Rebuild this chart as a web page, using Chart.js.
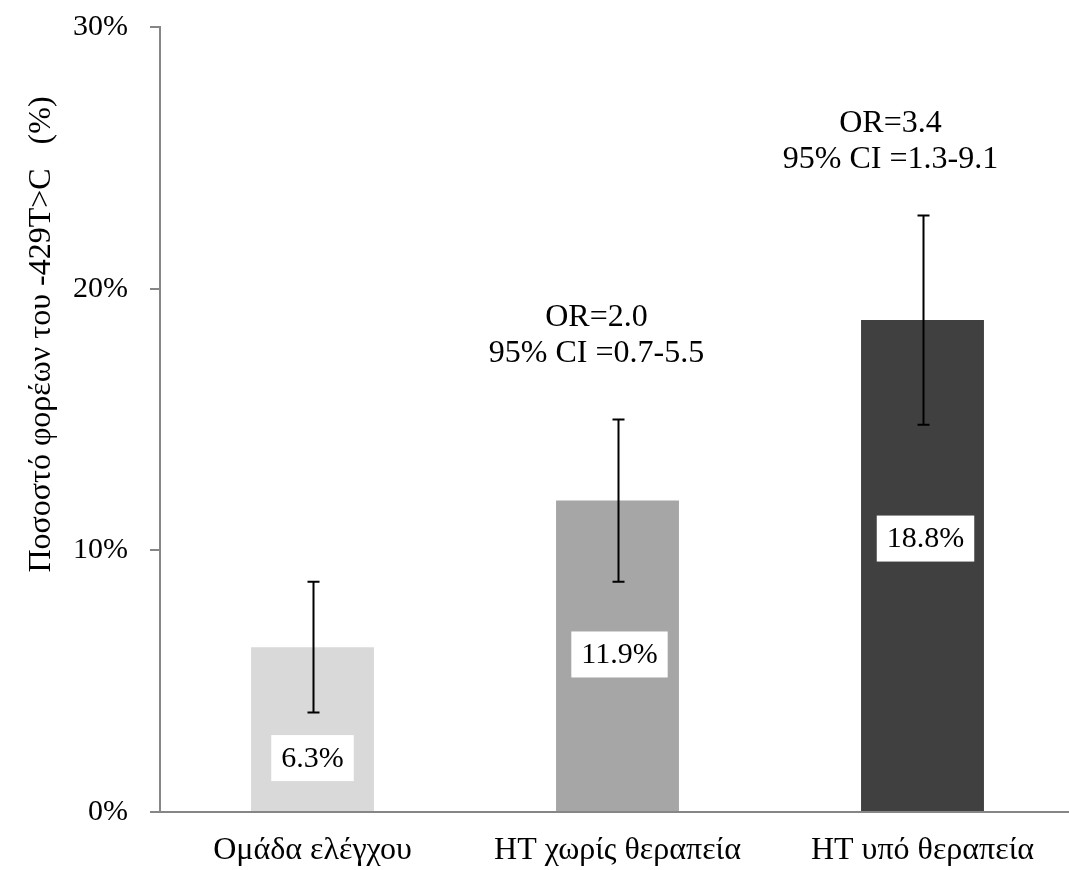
<!DOCTYPE html>
<html>
<head>
<meta charset="utf-8">
<script src="https://cdn.jsdelivr.net/npm/chart.js@4.4.1/dist/chart.umd.min.js"></script>
<style>
  html, body { margin: 0; padding: 0; background: #ffffff; overflow: hidden; }
  #wrap { width: 1075px; height: 870px; }
</style>
</head>
<body>
<div id="wrap"><canvas id="chart" width="1075" height="870"></canvas></div>
<script>
// Carriers of the -429T>C variant per group, with 95% confidence limits
const categories = ["Ομάδα ελέγχου", "HT χωρίς θεραπεία", "HT υπό θεραπεία"];
const carrierPct = [6.3, 11.9, 18.8];
const ciLow = [3.8, 8.8, 14.8];
const ciHigh = [8.8, 15.0, 22.8];
const orLabels = [null, "OR=2.0", "OR=3.4"];
const orCiLabels = [null, "95% CI =0.7-5.5", "95% CI =1.3-9.1"];
const yTickValues = [0, 10, 20, 30];
const yTitle = "Ποσοστό φορέων του -429T>C   (%)";

const barColors = ["#d9d9d9", "#a6a6a6", "#404040"];
const FONT = '"Liberation Serif", "Times New Roman", serif';
const AXIS_COLOR = "#868686";

// Error bars, value boxes, OR annotations and the rotated axis title
const overlayPlugin = {
  id: "overlay",
  afterDatasetsDraw(chart, args, opts) {
    const ctx = chart.ctx;
    const meta = chart.getDatasetMeta(0);
    const y = chart.scales.y;
    ctx.save();

    // confidence-interval whiskers
    ctx.strokeStyle = "#000000";
    ctx.lineWidth = 2;
    meta.data.forEach((bar, i) => {
      const x = Math.round(bar.x) + 0.5;
      const yHi = y.getPixelForValue(ciHigh[i]);
      const yLo = y.getPixelForValue(ciLow[i]);
      ctx.beginPath();
      ctx.moveTo(x, yHi); ctx.lineTo(x, yLo);
      ctx.moveTo(x - 6, yHi); ctx.lineTo(x + 6, yHi);
      ctx.moveTo(x - 6, yLo); ctx.lineTo(x + 6, yLo);
      ctx.stroke();
    });

    // value labels in white boxes
    ctx.font = "30px " + FONT;
    ctx.textAlign = "center";
    ctx.textBaseline = "middle";
    meta.data.forEach((bar, i) => {
      const txt = carrierPct[i].toFixed(1) + "%";
      const cx = bar.x + opts.valueDx[i];
      const cy = y.getPixelForValue(opts.valueAt[i]);
      const w = ctx.measureText(txt).width + 20;
      const h = 46;
      ctx.fillStyle = "#ffffff";
      ctx.fillRect(cx - w / 2, cy - h / 2, w, h);
      ctx.fillStyle = "#000000";
      ctx.fillText(txt, cx, cy + 1);
    });

    // odds ratio annotations
    ctx.font = "32px " + FONT;
    ctx.textBaseline = "alphabetic";
    meta.data.forEach((bar, i) => {
      if (!orLabels[i]) return;
      const cx = bar.x + opts.noteDx[i];
      const by = y.getPixelForValue(opts.noteAt[i]);
      ctx.fillText(orLabels[i], cx, by);
      ctx.fillText(orCiLabels[i], cx, by + 36);
    });

    // y-axis title
    ctx.translate(50, 334.5);
    ctx.rotate(-Math.PI / 2);
    ctx.textAlign = "center";
    ctx.fillText(yTitle, 0, 0);
    ctx.restore();
  }
};

new Chart(document.getElementById("chart"), {
  type: "bar",
  data: {
    labels: categories,
    datasets: [{
      data: carrierPct,
      backgroundColor: barColors,
      borderWidth: 0,
      barPercentage: 1.0,
      categoryPercentage: 0.403
    }]
  },
  plugins: [overlayPlugin],
  options: {
    responsive: false,
    animation: false,
    layout: { padding: { top: 27, left: 0, right: 0, bottom: 0 } },
    plugins: {
      legend: { display: false },
      tooltip: { enabled: false },
      overlay: {
        valueAt: [2.06, 6.02, 10.45],
        valueDx: [0, 2, 3],
        noteAt: [null, 18.57, 25.98],
        noteDx: [0, -21, -32]
      }
    },
    scales: {
      x: {
        grid: { display: false },
        border: { display: true, color: AXIS_COLOR, width: 2 },
        ticks: {
          color: "#000000",
          font: { family: FONT, size: 32 },
          padding: 11,
          maxRotation: 0
        },
        afterFit(scale) { scale.height = 58; }
      },
      y: {
        min: 0,
        max: 30,
        afterBuildTicks(scale) { scale.ticks = yTickValues.map(v => ({ value: v })); },
        grid: {
          display: true,
          drawOnChartArea: false,
          drawTicks: true,
          tickLength: 10,
          color: AXIS_COLOR,
          lineWidth: 2
        },
        border: { display: true, color: AXIS_COLOR, width: 2 },
        ticks: {
          color: "#000000",
          font: { family: FONT, size: 30 },
          padding: 22,
          callback: v => v + "%"
        },
        afterFit(scale) {
          scale.width = 160;
          scale.paddingTop = 0;
          scale.paddingBottom = 0;
        }
      }
    }
  }
});
</script>
</body>
</html>
